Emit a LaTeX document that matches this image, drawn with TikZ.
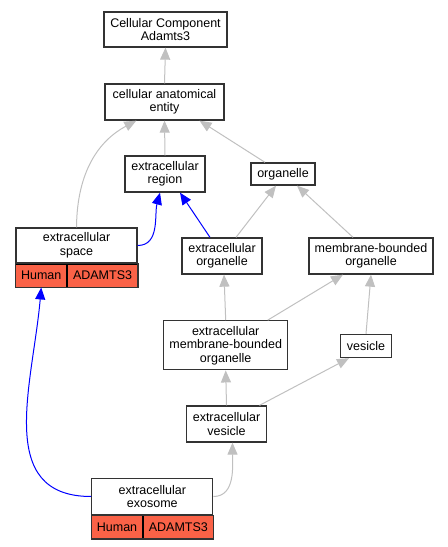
\documentclass[tikz,border=0pt]{standalone}
\usepackage{fontspec}
\setmainfont{Liberation Sans}
\usepackage{xcolor}
\usepackage{tikz}
\usetikzlibrary{arrows.meta,positioning,calc}

\definecolor{edgegray}{HTML}{C0C0C0}
\definecolor{tomatored}{HTML}{FA6247}
\definecolor{boxline}{HTML}{333333}

\begin{document}
\begin{tikzpicture}[
    x=1bp, y=-1bp,
    term/.style={rectangle, draw=boxline, line width=1.3bp, fill=white, align=center, inner sep=1bp,
        font=\fontsize{12.5bp}{13.5bp}\selectfont},
    gene/.style={rectangle, draw=black, line width=0.8bp, fill=tomatored, inner sep=0pt, minimum height=23bp,
        font=\fontsize{12.5bp}{13.5bp}\selectfont},
    isa/.style={draw=edgegray, line width=1bp, -{Triangle[length=12bp,width=10bp]}},
    annot/.style={draw=blue, line width=1bp, -{Triangle[length=12bp,width=10bp]}},
]
\useasboundingbox (0,0) rectangle (448,547);

% Terms
\node[term, minimum width=123bp, minimum height=35bp] (root) at (165.5,29.5) {Cellular Component\\Adamts3};
\node[term, minimum width=119bp, minimum height=36bp] (cae) at (164.5,102) {cellular anatomical\\entity};
\node[term, minimum width=80bp, minimum height=36bp] (er) at (165,174) {extracellular\\region};
\node[term, minimum width=64bp, minimum height=22bp] (org) at (283,174) {organelle};
\node[term, minimum width=121bp, minimum height=35bp] (es) at (76.5,245.5) {extracellular\\space};
\node[term, minimum width=80bp, minimum height=36bp] (eo) at (222,256) {extracellular\\organelle};
\node[term, minimum width=124bp, minimum height=36bp] (mbo) at (371,256) {membrane-bounded\\organelle};
\node[term, minimum width=124bp, minimum height=49bp] (embo) at (225.7,345.3) {extracellular\\membrane-bounded\\organelle};
\node[term, minimum width=51bp, minimum height=23bp] (ves) at (366,346) {vesicle};
\node[term, minimum width=80bp, minimum height=36bp] (ev) at (226.5,424) {extracellular\\vesicle};
\node[term, minimum width=121bp, minimum height=36bp] (exo) at (152.3,496.5) {extracellular\\exosome};

% Gene rows
\node[gene, anchor=north west, minimum width=51bp] (esh) at (es.south west) {Human};
\node[gene, anchor=north west, minimum width=70bp] (esa) at (esh.north east) {ADAMTS3};
\draw[draw=boxline, line width=1.3bp] (es.south west) rectangle (esa.south east);
\node[gene, anchor=north west, minimum width=51bp] (exoh) at (exo.south west) {Human};
\node[gene, anchor=north west, minimum width=70bp] (exoa) at (exoh.north east) {ADAMTS3};
\draw[draw=boxline, line width=1.3bp] (exo.south west) rectangle (exoa.south east);

% is_a edges
\draw[isa] (cae.north) -- (root.south);
\draw[isa] (er.north) -- (cae.south);
\draw[isa] (es.north) .. controls (77,170) and (100,140) .. ([xshift=32bp]cae.south west);
\draw[isa] ([xshift=-18bp]org.north) -- ([xshift=35bp]cae.south);
\draw[isa] ([xshift=14bp]eo.north) -- ([xshift=-7bp]org.south);
\draw[isa] ([xshift=-18bp]mbo.north) -- ([xshift=14bp]org.south);
\draw[isa] (embo.north) -- ([xshift=2bp]eo.south);
\draw[isa] ([xshift=42bp]embo.north) -- ([xshift=-28bp]mbo.south);
\draw[isa] (ves.north) -- (mbo.south);
\draw[isa] (ev.north) -- (embo.south);
\draw[isa] ([xshift=33bp]ev.north) -- ([xshift=-17bp]ves.south);
\draw[isa] (exo.east) to[out=0, in=-90] ([xshift=6bp]ev.south);

% annotation edges
\draw[annot] (es.east) to[out=0, in=-105] ([xshift=-5bp]er.south);
\draw[annot] ([xshift=-12bp]eo.north) -- ([xshift=15bp]er.south);
\draw[annot] (exo.west) to[out=180, in=-95, looseness=1.15] (esh.south);

\end{tikzpicture}
\end{document}
